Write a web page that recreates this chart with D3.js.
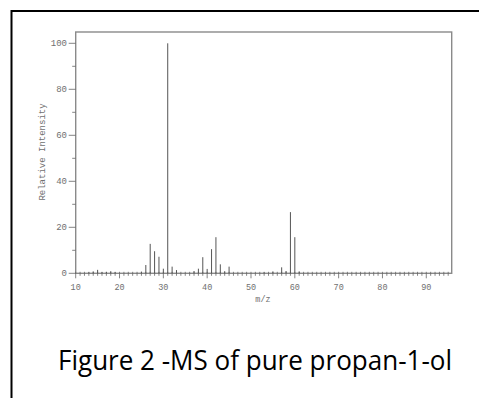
<!DOCTYPE html>
<html><head><meta charset="utf-8">
<script src="https://cdn.jsdelivr.net/npm/d3@7/dist/d3.min.js"></script>
<style>html,body{margin:0;padding:0;background:#fff;}svg{display:block;}</style>
</head><body>
<script>
const mz =        [13, 14, 15, 16, 17, 18, 19, 25, 26, 27, 28, 29, 30, 31, 32, 33, 37, 38, 39, 40, 41, 42, 43, 44, 45, 53, 55, 57, 58, 59, 60, 61];
const intensity = [0.4,0.8,1.5,0.5,0.6,0.9,0.5,0.7,3.6,12.8,9.6,7.2,2.0,100,2.9,1.4,1.0,2.0,7.0,1.9,10.5,15.7,3.9,0.9,2.9,0.4,0.8,2.6,1.0,26.6,15.7,0.8];
const xTicks = [10,20,30,40,50,60,70,80,90];
const yTicks = [0,20,40,60,80,100];
const yMinor = [10,30,50,70,90];
const caption = "Figure 2 -MS of pure propan-1-ol";

(function(){
const W = 479, H = 398;
const svg = d3.select("body").append("svg").attr("width", W).attr("height", H);

// outer border
svg.append("rect").attr("x", 11.5).attr("y", 11).attr("width", 600).attr("height", 600)
  .attr("fill", "none").attr("stroke", "#000").attr("stroke-width", 2);

const x = d3.scaleLinear().domain([10, 95.8]).range([75.7, 451.7]);
const y = d3.scaleLinear().domain([0, 100]).range([273.3, 43.3]);
const frameTop = 32;
const grey = "#8a8a8a";
const font = "'Liberation Mono', 'DejaVu Sans Mono', monospace";
const txt = "#707070";

// frame
svg.append("rect").attr("x", x.range()[0]).attr("y", frameTop)
  .attr("width", x.range()[1] - x.range()[0]).attr("height", y(0) - frameTop)
  .attr("fill", "none").attr("stroke", grey).attr("stroke-width", 1.4);

// x axis ticks
const minorX = d3.range(10, 96);
svg.append("g").selectAll("line").data(minorX).join("line")
  .attr("x1", d => x(d)).attr("x2", d => x(d))
  .attr("y1", d => y(0) - 1.5).attr("y2", d => d % 10 === 0 ? y(0) + 5 : y(0) + 2.5)
  .attr("stroke", "#666").attr("stroke-width", 0.8);
svg.append("g").selectAll("text").data(xTicks).join("text")
  .attr("x", d => x(d)).attr("y", 290).attr("text-anchor", "middle")
  .attr("font-family", font).attr("font-size", 8.5).attr("fill", txt).text(d => d);
svg.append("text").attr("x", 263).attr("y", 302).attr("text-anchor", "middle")
  .attr("font-family", font).attr("font-size", 8.5).attr("fill", txt).text("m/z");

// y axis ticks
svg.append("g").selectAll("line").data(yTicks).join("line")
  .attr("x1", x.range()[0] - 7).attr("x2", x.range()[0])
  .attr("y1", d => y(d)).attr("y2", d => y(d)).attr("stroke", "#666").attr("stroke-width", 0.8);
svg.append("g").selectAll("line").data(yMinor).join("line")
  .attr("x1", x.range()[0] - 3.5).attr("x2", x.range()[0])
  .attr("y1", d => y(d)).attr("y2", d => y(d)).attr("stroke", "#666").attr("stroke-width", 0.8);
svg.append("g").selectAll("text").data(yTicks).join("text")
  .attr("x", 67).attr("y", d => y(d) + 3).attr("text-anchor", "end")
  .attr("font-family", font).attr("font-size", 9).attr("fill", txt).text(d => d);
svg.append("text").attr("transform", "translate(45,152) rotate(-90)")
  .attr("text-anchor", "middle").attr("font-family", font).attr("font-size", 9)
  .attr("fill", txt).text("Relative Intensity");

// peaks
svg.append("g").selectAll("line").data(mz).join("line")
  .attr("x1", d => x(d)).attr("x2", d => x(d))
  .attr("y1", y(0)).attr("y2", (d, i) => y(intensity[i]))
  .attr("stroke", "#555").attr("stroke-width", 1);

// caption
svg.append("text").attr("x", 255).attr("y", 370).attr("text-anchor", "middle")
  .attr("font-family", "'Open Sans', sans-serif").attr("font-size", 27).attr("fill", "#000")
  .attr("textLength", 394).attr("lengthAdjust", "spacingAndGlyphs")
  .text(caption);
})();
</script>
</body></html>
